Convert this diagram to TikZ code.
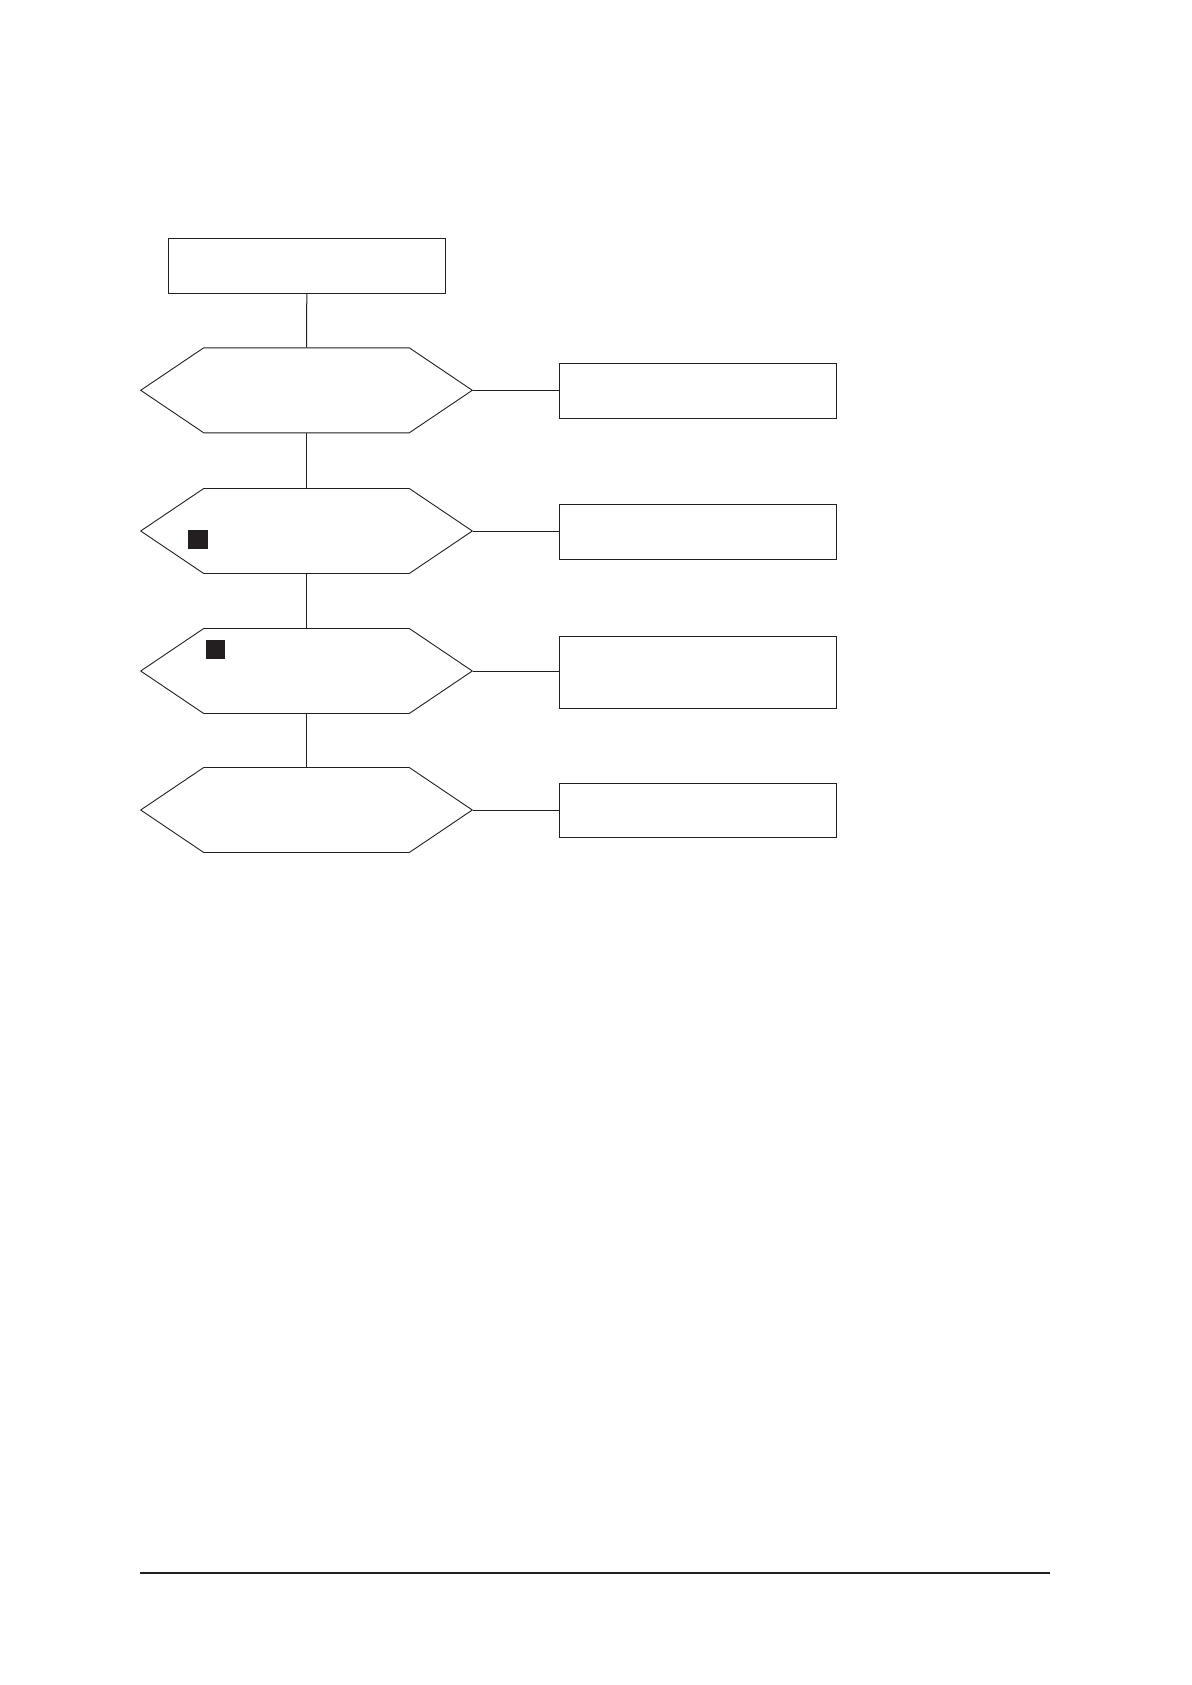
\documentclass[tikz,border=0pt]{standalone}
\usetikzlibrary{shapes.symbols}
\definecolor{ink}{RGB}{35,31,32}
\tikzset{
    box/.style={draw=ink, line width=1.1pt, rectangle, inner sep=0pt, minimum width=277pt, minimum height=55pt},
    hexbox/.style={draw=ink, line width=0.9pt, signal, signal to=east and west, signal pointer angle=68, inner sep=0pt, minimum width=331.6pt, minimum height=85pt},
    mark box/.style={fill=ink, rectangle, inner sep=0pt, minimum size=19.5pt},
    link/.style={draw=ink, line width=1pt}
}
\begin{document}
\begin{tikzpicture}[x=1pt, y=-1pt]
    \useasboundingbox (0,0) rectangle (1191,1685);
    % start
    \node[box] (start) at (306.8,265.7) {};
    % decisions
    \foreach \i/\y in {1/390.3, 2/531, 3/671, 4/810} {
        \node[hexbox] (q\i) at (306.5,\y) {};
    }
    % results
    \node[box] (r1) at (697.8,390.8) {};
    \node[box] (r2) at (697.8,531.8) {};
    \node[box, minimum height=72.3pt] (r3) at (697.8,672.2) {};
    \node[box, minimum height=54pt] (r4) at (697.8,810.3) {};
    % markers
    \node[mark box] (m1) at (198,539.3) {};
    \node[mark box] (m2) at (215.5,649.3) {};
    % links
    \draw[link] (start.south) -- (q1.north);
    \draw[link] (q1.south) -- (q2.north);
    \draw[link] (q2.south) -- (q3.north);
    \draw[link] (q3.south) -- (q4.north);
    \foreach \i in {1,2,3,4} {
        \draw[link] (q\i.east) -- (r\i.west |- q\i.east);
    }
    % footer rule
    \coordinate (fl) at (140,1573);
    \coordinate (fr) at (1050,1573);
    \draw[ink, line width=2.5pt] (fl) -- (fr);
\end{tikzpicture}
\end{document}
